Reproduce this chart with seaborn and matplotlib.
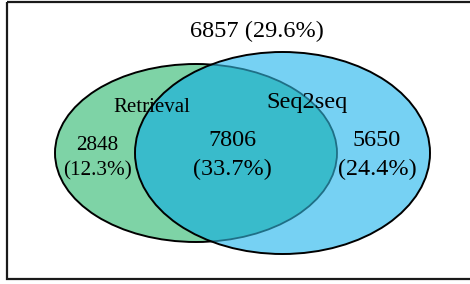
import matplotlib
matplotlib.use("Agg")
import matplotlib.pyplot as plt
import seaborn as sns
from matplotlib.patches import Ellipse, Rectangle

# Venn counts
set_names = ["Retrieval", "Seq2seq"]
only_retrieval = 2848
both = 7806
only_seq2seq = 5650
neither = 6857

total = only_retrieval + both + only_seq2seq + neither
pct = lambda n: f"({100 * n / total:.1f}%)"

sns.set_style("white")
plt.rcParams["font.family"] = ["Liberation Serif", "DejaVu Serif"]
plt.rcParams["text.color"] = "black"

fig = plt.figure(figsize=(4.7, 2.84), dpi=100)
ax = fig.add_axes([0, 0, 1, 1])
ax.set_xlim(0, 470)
ax.set_ylim(284, 0)
ax.axis("off")

green = "#7ED3A6"
blue = "#76D1F3"
teal = "#39BBCB"

# outer frame (runs off the right edge)
ax.add_patch(Rectangle((7, 2), 480, 277, fill=False, lw=1.6, ec="#1a1a1a", zorder=0))

# ellipses
g_fill = Ellipse((196, 153), 282, 178, fc=green, ec="black", lw=1.4, zorder=1)
b_fill = Ellipse((282.5, 153), 295, 202, fc=blue, ec="none", zorder=2)
ax.add_patch(g_fill)
ax.add_patch(b_fill)

overlap = Ellipse((196, 153), 282, 178, fc=teal, ec="#1f6f86", lw=1.3, zorder=3)
ax.add_patch(overlap)
overlap.set_clip_path(b_fill)

ax.add_patch(Ellipse((282.5, 153), 295, 202, fc="none", ec="black", lw=1.4, zorder=4))

# labels
ax.text(257, 37, f"{neither} {pct(neither)}", ha="center", va="baseline", fontsize=17.5, zorder=5)
ax.text(152, 112.5, set_names[0], ha="center", va="baseline", fontsize=15, zorder=5)
ax.text(307, 108, set_names[1], ha="center", va="baseline", fontsize=17.5, zorder=5)

ax.text(97, 149.5, str(only_retrieval), ha="center", va="baseline", fontsize=15.3, zorder=5)
ax.text(97, 175, pct(only_retrieval), ha="center", va="baseline", fontsize=15.3, zorder=5)
ax.text(232, 145.7, str(both), ha="center", va="baseline", fontsize=17.4, zorder=5)
ax.text(232, 175, pct(both), ha="center", va="baseline", fontsize=17.4, zorder=5)
ax.text(377, 145.7, str(only_seq2seq), ha="center", va="baseline", fontsize=17.4, zorder=5)
ax.text(377, 175, pct(only_seq2seq), ha="center", va="baseline", fontsize=17.4, zorder=5)

fig.savefig("out.png", dpi=100)
